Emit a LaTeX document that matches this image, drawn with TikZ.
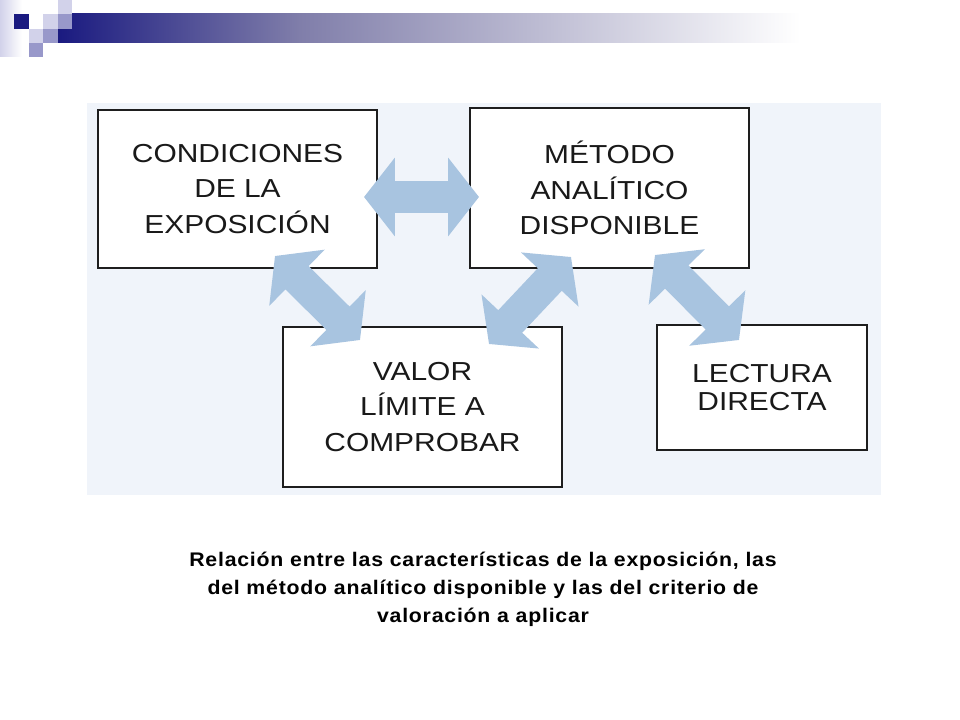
\documentclass[tikz,border=0pt]{standalone}
\usepackage{fontspec}
\setmainfont{Liberation Sans}
\newfontfamily\boxfont[FakeStretch=1.15]{Liberation Sans}
\newfontfamily\capfont[FakeStretch=1.08, LetterSpace=4]{Liberation Sans Bold}
\usetikzlibrary{arrows.meta}
\definecolor{navy}{RGB}{26,26,128}
\definecolor{lavlight}{RGB}{210,210,234}
\definecolor{lavmid}{RGB}{152,152,202}
\definecolor{barmid}{RGB}{128,126,170}
\definecolor{panel}{RGB}{240,244,250}
\definecolor{arrowblue}{RGB}{168,196,224}
\definecolor{boxline}{RGB}{30,30,30}
\begin{document}
\begin{tikzpicture}[x=0.025cm, y=-0.025cm,
    box/.style={draw=boxline, line width=1.4pt, fill=white, align=center, inner sep=0pt,
      text=black!90, font=\boxfont\fontsize{18.5}{25}\selectfont},
    link/.style={draw=arrowblue, line width=23.4pt,
      {Triangle[length=22pt,width=55pt]}-{Triangle[length=22pt,width=55pt]}}]
  \useasboundingbox (0,0) rectangle (960,720);
  \fill[white] (0,0) rectangle (960,720);
  % slide header
  \shade[left color=lavlight, right color=white] (0,0) rectangle (22,57);
  \shade[left color=navy, right color=barmid] (58,14) rectangle (300,43);
  \shade[left color=barmid, right color=white] (300,14) rectangle (800,43);
  \fill[navy] (14,14) rectangle (29,29);
  \fill[lavlight] (58,0) rectangle (72,14);
  \fill[lavlight] (43,14) rectangle (58,29);
  \fill[lavmid] (58,14) rectangle (72,29);
  \fill[lavlight] (29,29) rectangle (43,43);
  \fill[lavmid] (43,29) rectangle (58,43);
  \fill[lavmid] (29,43) rectangle (43,57);
  % figure
  \fill[panel] (87,103) rectangle (881,495);
  \node[box, minimum width=6.975cm, minimum height=3.95cm] (cond) at (237.5,189) {CONDICIONES\\DE LA\\EXPOSICIÓN};
  \node[box, minimum width=6.975cm, minimum height=4cm] (met) at (609.5,188) {MÉTODO\\ANALÍTICO\\DISPONIBLE};
  \node[box, minimum width=6.975cm, minimum height=4cm] (valor) at (422.5,407) {VALOR\\LÍMITE A\\COMPROBAR};
  \node[box, minimum width=5.25cm, minimum height=3.125cm,
    font=\boxfont\fontsize{18.5}{20.5}\selectfont] (lect) at (762,387.5) {LECTURA\\DIRECTA};
  \draw[link] ([shift={(-14,8)}]cond.east) -- ([shift={(10,9)}]met.west);
  \draw[link] ([shift={(37.5,-13)}]cond.south) -- ([shift={(-62.5,14)}]valor.north);
  \draw[link] ([shift={(66.5,18)}]valor.north) -- ([shift={(-38.5,-12)}]met.south);
  \draw[link] ([shift={(45.5,-14)}]met.south) -- ([shift={(-23,16)}]lect.north);
  \node[font=\capfont\fontsize{14}{19.8}\selectfont, align=center] (caption) at (483,589)
    {Relación entre las características de la exposición, las\\
     del método analítico disponible y las del criterio de\\
     valoración a aplicar};
\end{tikzpicture}
\end{document}
